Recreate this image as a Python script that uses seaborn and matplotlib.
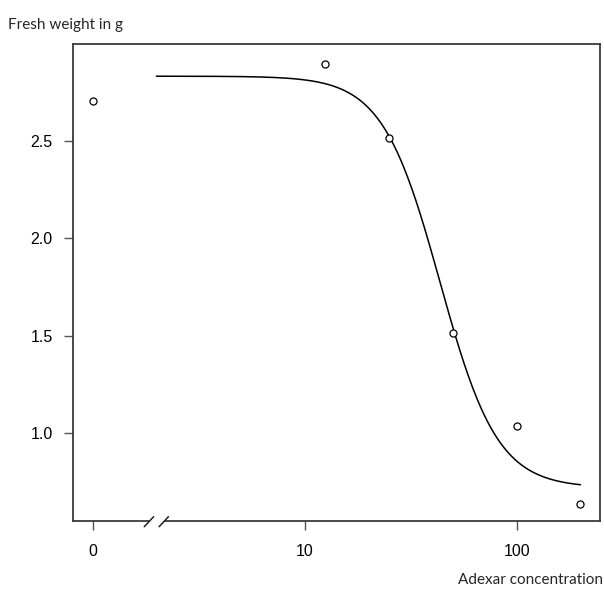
import numpy as np
import pandas as pd
import matplotlib
matplotlib.use("Agg")
import matplotlib.pyplot as plt
import seaborn as sns

# ---- data ----
dose = [0, 12.5, 25, 50, 100, 200]
fresh_weight = [2.705, 2.894, 2.515, 1.515, 1.037, 0.637]
x_tick_values = [0, 10, 100]
x_tick_labels = ["0", "10", "100"]
y_tick_values = [1.0, 1.5, 2.0, 2.5]
y_tick_labels = ["1.0", "1.5", "2.0", "2.5"]

# fitted log-logistic (LL.4) model parameters
ll4_b, ll4_c, ll4_d, ll4_e = 3.2, 0.72, 2.83, 43.5
curve_start, curve_end = 2.0, 200.0
zero_position = 1.0   # where dose 0 is drawn on the log axis
break_position = 2.0

sns.set_style("ticks")
plt.rcParams["font.family"] = ["Liberation Sans", "DejaVu Sans"]

fig = plt.figure(figsize=(6.04, 5.89), dpi=100)
ax = fig.add_axes([73 / 604, 1 - 521 / 589, 527 / 604, 477 / 589])

pts = pd.DataFrame({"x": [d if d > 0 else zero_position for d in dose],
                    "y": fresh_weight})
xc = np.logspace(np.log10(curve_start), np.log10(curve_end), 300)
yc = ll4_c + (ll4_d - ll4_c) / (1 + np.exp(ll4_b * (np.log(xc) - np.log(ll4_e))))
crv = pd.DataFrame({"x": xc, "y": yc})

sns.lineplot(data=crv, x="x", y="y", ax=ax, color="black", linewidth=1.1)
sns.scatterplot(data=pts, x="x", y="y", ax=ax, marker="o", s=26,
                facecolor="white", edgecolor="black", linewidth=0.9, zorder=3)

ax.set_xscale("log")
ax.set_xlim(10 ** -0.092, 10 ** 2.393)
ax.set_ylim(0.55, 2.995)

ax.set_xticks([v if v > 0 else zero_position for v in x_tick_values])
ax.set_xticklabels(x_tick_labels, family=["Liberation Sans", "DejaVu Sans"])
ax.xaxis.set_minor_locator(matplotlib.ticker.NullLocator())
ax.set_yticks(y_tick_values)
ax.set_yticklabels(y_tick_labels, family=["Liberation Sans", "DejaVu Sans"])

for sp in ax.spines.values():
    sp.set_visible(True)
    sp.set_color("#3a3a3a")
    sp.set_linewidth(1.3)
ax.tick_params(axis="both", direction="out", length=6.5, width=1.0,
               color="#555555", labelsize=11.5, labelcolor="black")
ax.tick_params(axis="x", pad=10)
ax.tick_params(axis="y", pad=8)
ax.set_xlabel("")
ax.set_ylabel("")

# axis break marks on bottom axis
trans = matplotlib.transforms.blended_transform_factory(ax.transData, ax.transAxes)
lb = break_position * 10 ** -0.035
rb = break_position * 10 ** 0.035
ax.plot([lb, rb], [0, 0], transform=trans, color="white", linewidth=3,
        clip_on=False, zorder=5, solid_capstyle="butt")
for xb in [lb, rb]:
    ax.plot([xb * 10 ** -0.022, xb * 10 ** 0.022], [-0.012, 0.009], transform=trans,
            color="#222222", linewidth=1.1, clip_on=False, zorder=6)

fig.text(8 / 604, 1 - 25 / 589, "Fresh weight in g", fontsize=11,
         family=["Lato", "DejaVu Sans"], ha="left", va="center")
fig.text(603 / 604, 1 - 580 / 589, "Adexar concentration", fontsize=11,
         family=["Lato", "DejaVu Sans"], ha="right", va="center")

fig.savefig("out.png", dpi=100)
